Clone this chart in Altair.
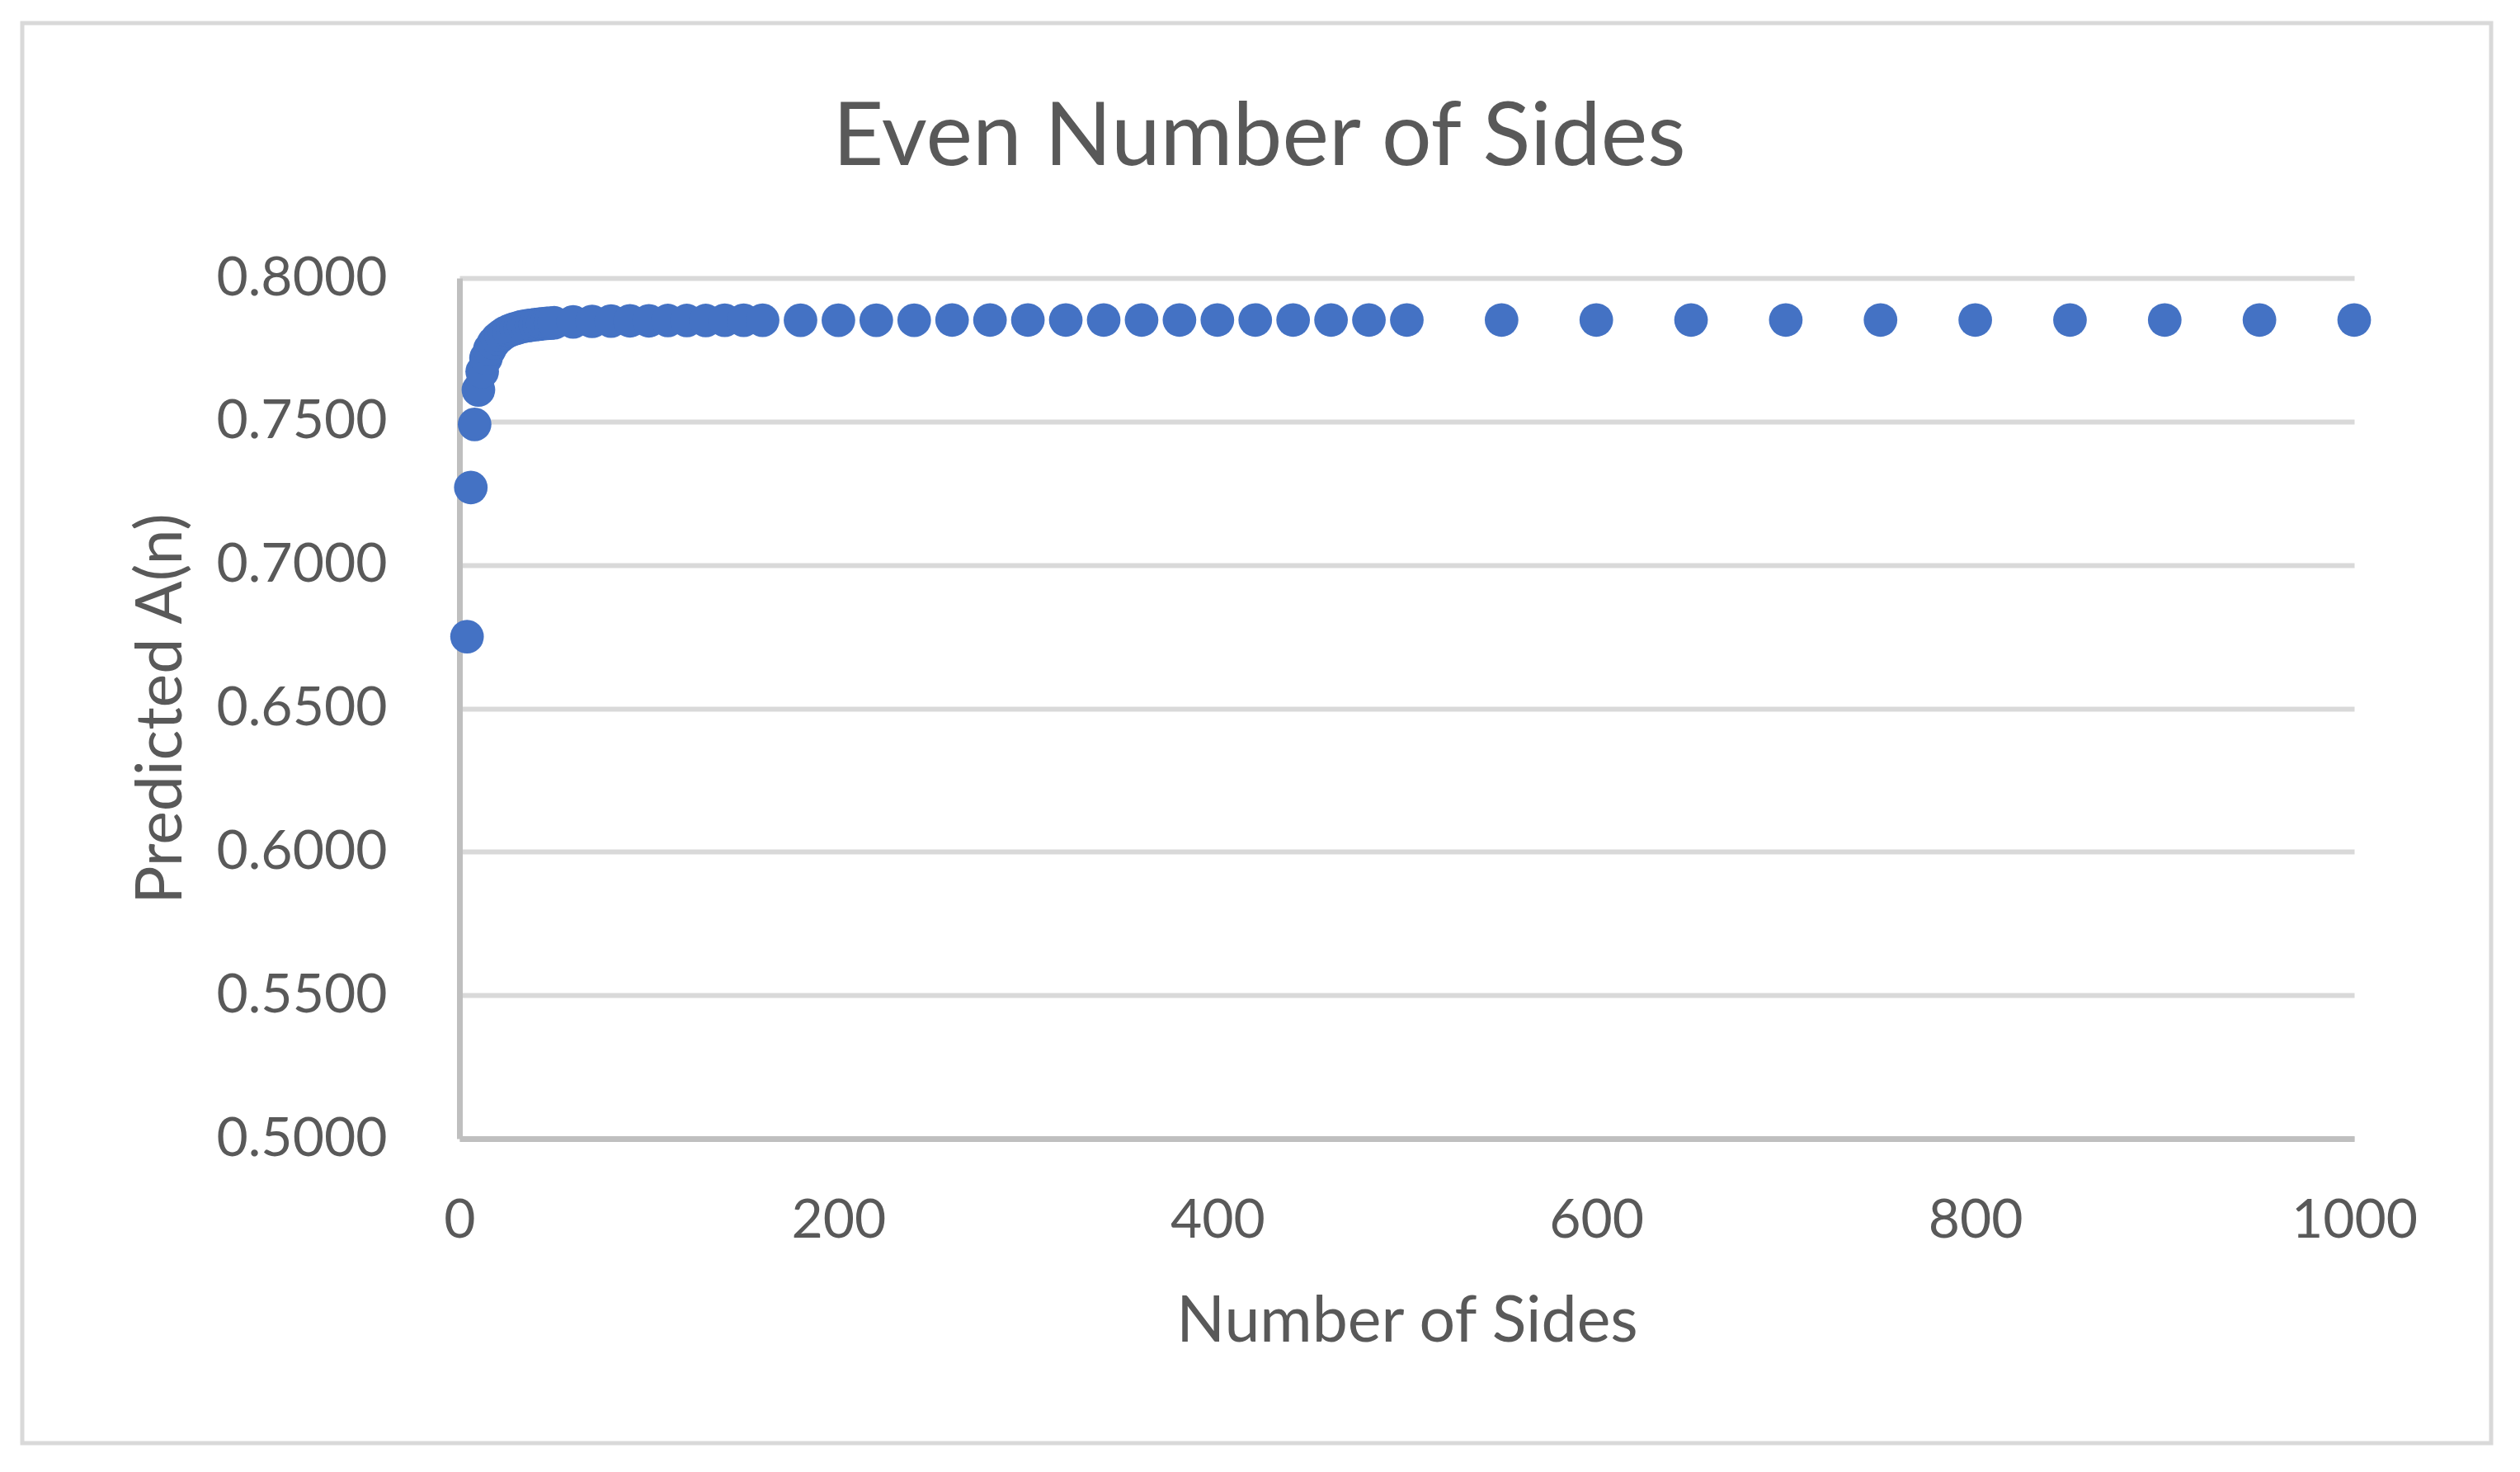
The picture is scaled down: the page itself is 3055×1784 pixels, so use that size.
import altair as alt
import pandas as pd

# Number of sides (even) and predicted A(n)
sides = [4, 6, 8, 10, 12, 14, 16, 18, 20, 22, 24, 26, 28, 30, 32, 34, 36, 38, 40,
         42, 44, 46, 48, 50, 60, 70, 80, 90, 100, 110, 120, 130, 140, 150, 160,
         180, 200, 220, 240, 260, 280, 300, 320, 340, 360, 380, 400, 420, 440,
         460, 480, 500, 550, 600, 650, 700, 750, 800, 850, 900, 950, 1000]
predicted = [0.6750, 0.7270, 0.7490, 0.7610, 0.7674, 0.7721, 0.7752, 0.7774,
             0.7789, 0.7800, 0.7809, 0.7816, 0.7821, 0.7825, 0.7829, 0.7832,
             0.7834, 0.7836, 0.7838, 0.7839, 0.7841, 0.7842, 0.7843, 0.7844,
             0.7847, 0.7849, 0.7850, 0.7851, 0.7851, 0.7852, 0.7852, 0.7852,
             0.7853, 0.7853, 0.7853, 0.7853, 0.7853, 0.7853, 0.7853, 0.7854,
             0.7854, 0.7854, 0.7854, 0.7854, 0.7854, 0.7854, 0.7854, 0.7854,
             0.7854, 0.7854, 0.7854, 0.7854, 0.7854, 0.7854, 0.7854, 0.7854,
             0.7854, 0.7854, 0.7854, 0.7854, 0.7854, 0.7854]

x_ticks = [0, 200, 400, 600, 800, 1000]
y_ticks = [0.50, 0.55, 0.60, 0.65, 0.70, 0.75, 0.80]

df = pd.DataFrame({"n": sides, "A": predicted})

FONT = "Lato"
TXT = "#595959"
W, H = 2297, 1043

points = alt.Chart(df).mark_circle(size=1660, color="#4472C4", opacity=1).encode(
    x=alt.X("n:Q", scale=alt.Scale(domain=[0, 1000], nice=False, zero=False),
            axis=alt.Axis(values=x_ticks, format="d", grid=False, ticks=False,
                          title="Number of Sides", labelPadding=67, titlePadding=52,
                          labelFlush=False, labelLimit=0)),
    y=alt.Y("A:Q", scale=alt.Scale(domain=[0.5, 0.8], nice=False, zero=False),
            axis=alt.Axis(values=y_ticks, format=".4f", grid=True, ticks=False,
                          title="Predicted A(n)", labelPadding=88,
                          titleX=-322, titleY=H / 2, titleAngle=270,
                          titleAlign="center", titleBaseline="bottom",
                          labelFlush=False, labelLimit=0)),
)

frame = alt.Chart(pd.DataFrame({"k": [0]})).mark_rect(
    fill=None, stroke="#d9d9d9", strokeWidth=5
).encode(
    x=alt.value(-530), x2=alt.value(2463), y=alt.value(-309), y2=alt.value(1412)
)

chart = alt.layer(frame, points).properties(
    width=W, height=H,
    background="white",
    autosize=alt.AutoSizeParams(type="none"),
    padding={"left": 549, "top": 329, "right": 193, "bottom": 390},
    title=alt.TitleParams("Even Number of Sides", font=FONT, fontSize=107,
                          fontWeight="normal", color=TXT, dx=-179, dy=281, offset=0,
                          baseline="alphabetic"),
).configure_view(stroke=None).configure_axis(
    domainColor="#bfbfbf", domainWidth=7, gridColor="#d9d9d9", gridWidth=6,
    labelFont=FONT, labelFontSize=66, labelColor=TXT,
    titleFont=FONT, titleFontSize=77, titleColor=TXT, titleFontWeight="normal",
)

chart.save("out.html", embed_options={"renderer": "svg", "actions": False})
